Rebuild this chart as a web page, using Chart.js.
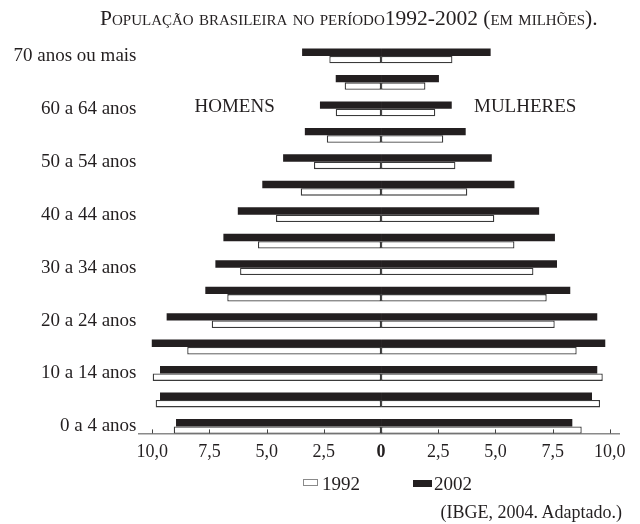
<!DOCTYPE html>
<html>
<head>
<meta charset="utf-8">
<script src="https://cdn.jsdelivr.net/npm/chart.js@4.4.0/dist/chart.umd.min.js"></script>
<style>
  html, body { margin: 0; padding: 0; background: #fff; }
  #wrap { position: relative; width: 640px; height: 524px; font-family: 'Liberation Serif', 'Times New Roman', serif; color: #231f20; }
  #chart { position: absolute; left: 0; top: 0; }
  .title { position: absolute; left: 100px; top: 8px; font-size: 21.5px; line-height: 21px; font-variant: small-caps; white-space: nowrap; }
  .legend { position: absolute; top: 0; left: 0; font-size: 19px; line-height: 19px; }
  .legend .box { position: absolute; height: 7px; box-sizing: border-box; }
  .legend .txt { position: absolute; top: 474px; }
  .source { position: absolute; right: 18px; top: 503px; font-size: 18px; line-height: 18px; white-space: nowrap; }
</style>
</head>
<body>
<div id="wrap">
  <canvas id="chart" width="640" height="524"></canvas>
  <div class="title">População brasileira no período1992-2002 (em milhões).</div>
  <div class="legend">
    <span class="box" style="left:303px; top:479px; width:15px; border:1px solid #8a8a8a; background:#fff;"></span>
    <span class="txt" style="left:322px;">1992</span>
    <span class="box" style="left:413px; top:480px; width:19px; background:#231f20;"></span>
    <span class="txt" style="left:434px;">2002</span>
  </div>
  <div class="source">(IBGE, 2004. Adaptado.)</div>
</div>
<script>
(function() {
    'use strict';

    // faixas etárias, de baixo (0 a 4) para cima (70 ou mais)
    var ageLabels = [
        '0 a 4 anos', '5 a 9 anos', '10 a 14 anos', '15 a 19 anos', '20 a 24 anos',
        '25 a 29 anos', '30 a 34 anos', '35 a 39 anos', '40 a 44 anos', '45 a 49 anos',
        '50 a 54 anos', '55 a 59 anos', '60 a 64 anos', '65 a 69 anos', '70 anos ou mais'
    ];

    // milhões de pessoas
    var men2002   = [8.96, 9.66, 9.66, 10.02, 9.37, 7.68, 7.24, 6.89, 6.26, 5.19, 4.28, 3.33, 2.67, 1.98, 3.45];
    var men1992   = [9.06, 9.85, 9.98, 8.47, 7.40, 6.72, 6.16, 5.38, 4.59, 3.51, 2.93, 2.37, 1.98, 1.59, 2.26];
    var women2002 = [8.36, 9.22, 9.45, 9.80, 9.45, 8.27, 7.69, 7.60, 6.91, 5.83, 4.84, 3.70, 3.09, 2.53, 4.79];
    var women1992 = [8.77, 9.57, 9.69, 8.55, 7.59, 7.24, 6.66, 5.83, 4.95, 3.77, 3.25, 2.72, 2.37, 1.94, 3.12];

    var xTickValues = [-10, -7.5, -5, -2.5, 0, 2.5, 5, 7.5, 10];
    var xTickLabels = ['10,0', '7,5', '5,0', '2,5', '0', '2,5', '5,0', '7,5', '10,0'];

    var serif = "'Liberation Serif', 'Times New Roman', serif";
    var ink = '#231f20';

    // homens à esquerda (negativo), mulheres à direita
    function rows(values, sign) {
        return values.map(function(v, i) {
            return { x: sign * v, y: i };
        });
    }

    var dark = { backgroundColor: ink, borderWidth: 0, stack: '2002' };
    var light = { backgroundColor: '#ffffff', borderColor: '#3a3a3a', borderWidth: 1.3, borderSkipped: false, stack: '1992' };

    // marcas dos ticks para cima e rótulos HOMENS / MULHERES
    var extras = {
        id: 'extras',
        afterDatasetsDraw: function(chart) {
            var ctx = chart.ctx;
            var xs = chart.scales.x;
            var ys = chart.scales.y;
            ctx.save();
            ctx.strokeStyle = '#444';
            ctx.lineWidth = 1;
            xs.ticks.forEach(function(t) {
                var px = Math.round(xs.getPixelForValue(t.value)) + 0.5;
                ctx.beginPath();
                ctx.moveTo(px, ys.bottom - 4);
                ctx.lineTo(px, ys.bottom);
                ctx.stroke();
            });
            ctx.font = '19px ' + serif;
            ctx.fillStyle = ink;
            ctx.textAlign = 'center';
            ctx.textBaseline = 'middle';
            ctx.fillText('HOMENS', xs.getPixelForValue(-6.4), ys.getPixelForValue(12.08));
            ctx.fillText('MULHERES', xs.getPixelForValue(6.3), ys.getPixelForValue(12.08));
            ctx.restore();
        }
    };

    new Chart(document.getElementById('chart'), {
        type: 'bar',
        data: {
            datasets: [
                Object.assign({ label: '2002', data: rows(men2002, -1) }, dark),
                Object.assign({ label: '2002', data: rows(women2002, 1) }, dark),
                Object.assign({ label: '1992', data: rows(men1992, -1) }, light),
                Object.assign({ label: '1992', data: rows(women1992, 1) }, light)
            ]
        },
        options: {
            indexAxis: 'y',
            responsive: false,
            animation: false,
            categoryPercentage: 0.56,
            barPercentage: 1,
            layout: {
                padding: { top: 40, left: 10, right: 21, bottom: 53 }
            },
            plugins: {
                legend: { display: false },
                tooltip: { enabled: false }
            },
            scales: {
                x: {
                    type: 'linear',
                    stacked: true,
                    min: -10.6,
                    max: 10.4,
                    grid: { display: false, drawTicks: false },
                    border: { display: true, color: '#8a8a8a', width: 1.6 },
                    afterBuildTicks: function(scale) {
                        scale.ticks = xTickValues.map(function(v) { return { value: v }; });
                    },
                    ticks: {
                        padding: 8,
                        color: ink,
                        autoSkip: false,
                        maxRotation: 0,
                        font: function(c) {
                            var bold = c.tick && c.tick.value === 0;
                            return { family: serif, size: 18, weight: bold ? 'bold' : 'normal' };
                        },
                        callback: function(v) {
                            return xTickLabels[xTickValues.indexOf(v)];
                        }
                    }
                },
                y: {
                    type: 'linear',
                    stacked: true,
                    offset: false,
                    min: -0.263,
                    max: 14.6,
                    grid: { display: false, drawTicks: false, offset: false },
                    border: { display: false },
                    afterFit: function(scale) {
                        scale.width = 128.5;
                    },
                    afterBuildTicks: function(scale) {
                        scale.ticks = ageLabels.map(function(l, i) { return { value: i }; })
                            .filter(function(t) { return t.value % 2 === 0; });
                    },
                    ticks: {
                        padding: 2,
                        color: ink,
                        autoSkip: false,
                        font: { family: serif, size: 19 },
                        callback: function(v) {
                            return ageLabels[v];
                        }
                    }
                }
            }
        },
        plugins: [extras]
    });
})();
</script>
</body>
</html>
